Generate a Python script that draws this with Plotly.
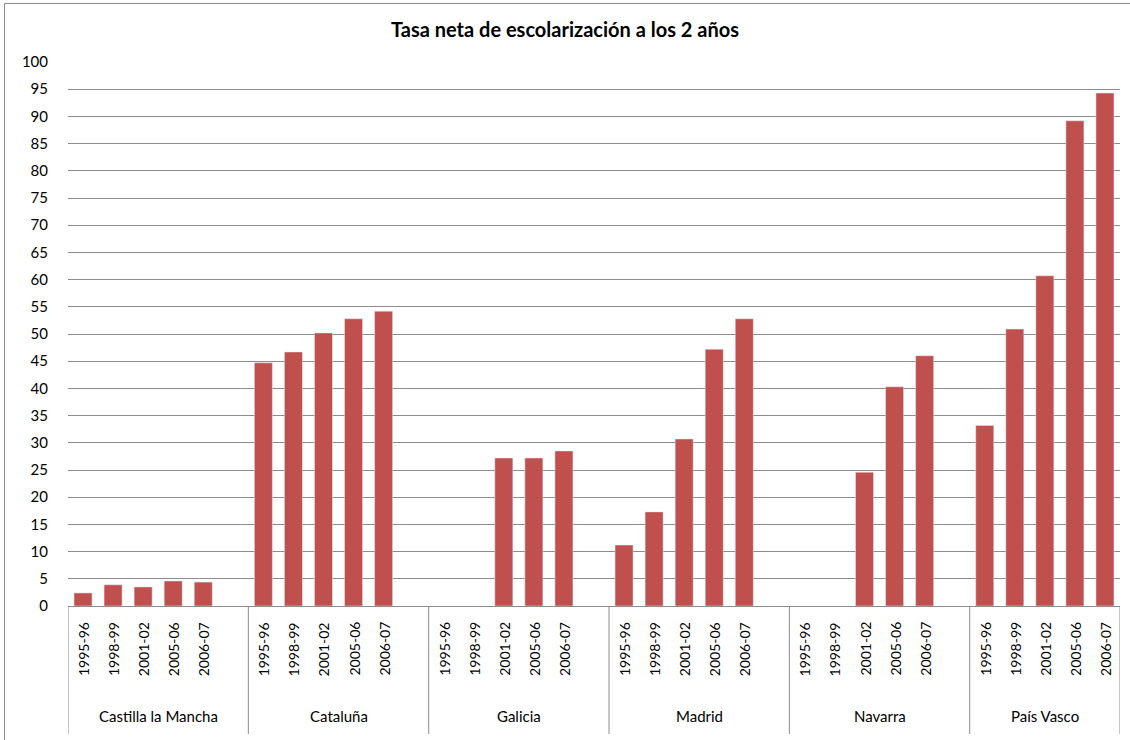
import plotly.graph_objects as go

regions = ["Castilla la Mancha", "Cataluña", "Galicia", "Madrid", "Navarra", "País Vasco"]
years = ["1995-96", "1998-99", "2001-02", "2005-06", "2006-07"]

castilla = [2.4, 3.9, 3.5, 4.6, 4.4]
cataluna = [44.7, 46.7, 50.2, 52.8, 54.2]
galicia = [None, None, 27.2, 27.2, 28.5]
madrid = [11.2, 17.3, 30.7, 47.2, 52.8]
navarra = [None, None, 24.6, 40.3, 46.0]
pais_vasco = [33.2, 50.9, 60.7, 89.2, 94.3]
series = [castilla, cataluna, galicia, madrid, navarra, pais_vasco]

title = "Tasa neta de escolarización a los 2 años"
y_ticks = list(range(0, 101, 5))

FONT = "Lato"
W, H = 1130, 740
L, R, T, B = 68, 10, 62, 134
PW, PH = W - L - R, H - T - B
SLOT = len(years) + 1  # one empty slot between groups

xs, ys = [], []
for g, vals in enumerate(series):
    for i, v in enumerate(vals):
        xs.append(g * SLOT + i)
        ys.append(v)

fig = go.Figure()
fig.add_trace(go.Bar(x=xs, y=ys, marker_color="#C0504D", width=0.6, showlegend=False,
                     hoverinfo="skip"))

annotations = []
shapes = []
n_slots = SLOT * (len(regions) - 1) + len(years)
for g, reg in enumerate(regions):
    for i, yr in enumerate(years):
        annotations.append(dict(x=g * SLOT + i, y=-(620 - 606) / PH, xref="x", yref="paper",
                                text=yr, textangle=-90, showarrow=False, xanchor="center",
                                yanchor="top", font=dict(family=FONT, size=14, color="#000")))
    annotations.append(dict(x=g * SLOT + (len(years) - 1) / 2 + (0.5 if g < len(regions) - 1 else 0),
                            y=-(716 - 606) / PH, xref="x", yref="paper",
                            text=reg, showarrow=False, xanchor="center", yanchor="middle",
                            font=dict(family=FONT, size=15, color="#000")))
divs = [g * SLOT - 0.5 for g in range(len(regions))] + [n_slots - 0.5]
for d in divs:
    shapes.append(dict(type="line", xref="x", yref="paper", x0=d, x1=d, y0=0,
                       y1=-(734 - 606) / PH, line=dict(color="#8c8c8c", width=1)))
# outer chart border (top and left edges only)
shapes.append(dict(type="line", xref="paper", yref="paper",
                   x0=(4.5 - L) / PW, x1=(W - L) / PW,
                   y0=(606 - 3.5) / PH, y1=(606 - 3.5) / PH,
                   line=dict(color="#8c8c8c", width=1)))
shapes.append(dict(type="line", xref="paper", yref="paper",
                   x0=(4.5 - L) / PW, x1=(4.5 - L) / PW,
                   y0=(606 - 3.5) / PH, y1=(606 - H) / PH,
                   line=dict(color="#8c8c8c", width=1)))

fig.update_layout(
    width=W, height=H,
    margin=dict(l=L, r=R, t=T, b=B),
    paper_bgcolor="white", plot_bgcolor="white",
    title=dict(text="<b>" + title + "</b>", x=0.5, xref="container", y=1 - 30 / H,
               yref="container", yanchor="middle", xanchor="center",
               font=dict(family=FONT, size=20, color="#000")),
    xaxis=dict(range=[-0.5, n_slots - 0.5], showticklabels=False, showgrid=False,
               zeroline=False, showline=True, linecolor="#8c8c8c", linewidth=1, ticks=""),
    yaxis=dict(range=[0, 100], tickvals=y_ticks, showgrid=True, gridcolor="#8c8c8c",
               gridwidth=1, zeroline=False, showline=False, ticks="",
               ticklabelstandoff=19,
               tickfont=dict(family=FONT, size=15, color="#000")),
    annotations=annotations, shapes=shapes,
    bargap=0.4,
)

fig.write_html("out.html", config={"displayModeBar": False},
               post_script="document.body.style.margin='0';")
